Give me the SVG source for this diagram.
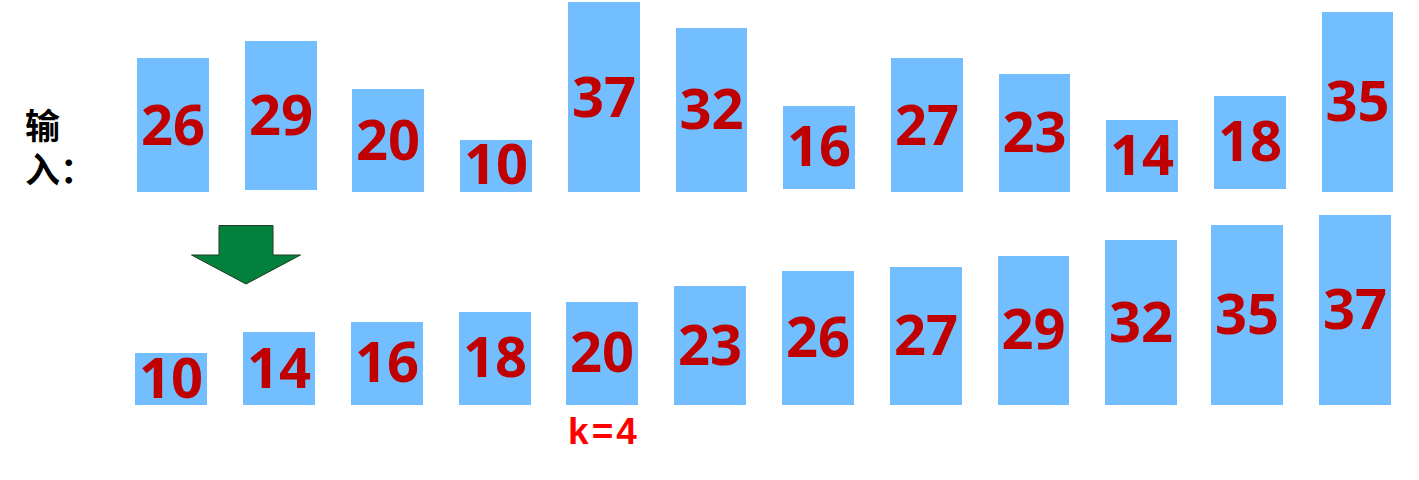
<svg xmlns="http://www.w3.org/2000/svg" width="1419" height="480" viewBox="0 0 1419 480">
<style>
.bar{fill:#73BEFF;}
.num{font-family:"Open Sans","Noto Sans",sans-serif;font-weight:bold;font-size:56px;fill:#C00000;text-anchor:middle;}
.lbl{font-family:"Noto Sans CJK SC",sans-serif;font-weight:bold;font-size:35px;fill:#000;}
.k{font-family:"Liberation Sans",Arial,sans-serif;font-weight:bold;font-size:37px;fill:#FF0000;text-anchor:middle;}
</style>
<rect width="1419" height="480" fill="#fff"/>
<g id="label-input">
<text class="lbl" x="25" y="139">输</text>
<text class="lbl" x="25" y="183">入：</text>
</g>
<g id="input-row">
<g id="in-26"><rect class="bar" x="137" y="58" width="72" height="134"/><text class="num" x="173" y="145">26</text></g>
<g id="in-29"><rect class="bar" x="245" y="41" width="72" height="149"/><text class="num" x="281" y="135">29</text></g>
<g id="in-20"><rect class="bar" x="352" y="89" width="72" height="103"/><text class="num" x="388" y="160">20</text></g>
<g id="in-10"><rect class="bar" x="460" y="140" width="72" height="52"/><text class="num" x="496" y="184">10</text></g>
<g id="in-37"><rect class="bar" x="568" y="2" width="72" height="190"/><text class="num" x="604" y="117">37</text></g>
<g id="in-32"><rect class="bar" x="676" y="28" width="71" height="164"/><text class="num" x="711.5" y="129">32</text></g>
<g id="in-16"><rect class="bar" x="783" y="106" width="72" height="83"/><text class="num" x="819" y="166">16</text></g>
<g id="in-27"><rect class="bar" x="891" y="58" width="72" height="134"/><text class="num" x="927" y="145">27</text></g>
<g id="in-23"><rect class="bar" x="999" y="74" width="71" height="118"/><text class="num" x="1034.5" y="152">23</text></g>
<g id="in-14"><rect class="bar" x="1106" y="120" width="72" height="72"/><text class="num" x="1142" y="175">14</text></g>
<g id="in-18"><rect class="bar" x="1214" y="96" width="72" height="93"/><text class="num" x="1250" y="161">18</text></g>
<g id="in-35"><rect class="bar" x="1322" y="12" width="71" height="180"/><text class="num" x="1357.5" y="121">35</text></g>
</g>
<g id="connectors">
<polygon points="219,225.5 273,225.5 273,255 300.5,255 246,284 191.5,255 219,255" fill="#03803B" stroke="#1E3A22" stroke-width="1"/>
</g>
<g id="sorted-row">
<g id="out-10"><rect class="bar" x="135" y="353" width="72" height="52"/><text class="num" x="171" y="398">10</text></g>
<g id="out-14"><rect class="bar" x="243" y="332" width="72" height="73"/><text class="num" x="279" y="388">14</text></g>
<g id="out-16"><rect class="bar" x="351" y="322" width="72" height="83"/><text class="num" x="387" y="382">16</text></g>
<g id="out-18"><rect class="bar" x="459" y="312" width="72" height="93"/><text class="num" x="495" y="377">18</text></g>
<g id="out-20"><rect class="bar" x="566" y="302" width="72" height="103"/><text class="num" x="602" y="372">20</text></g>
<g id="out-23"><rect class="bar" x="674" y="286" width="72" height="119"/><text class="num" x="710" y="365">23</text></g>
<g id="out-26"><rect class="bar" x="782" y="271" width="72" height="134"/><text class="num" x="818" y="357">26</text></g>
<g id="out-27"><rect class="bar" x="890" y="267" width="72" height="138"/><text class="num" x="926" y="355">27</text></g>
<g id="out-29"><rect class="bar" x="998" y="256" width="71" height="149"/><text class="num" x="1033.5" y="349">29</text></g>
<g id="out-32"><rect class="bar" x="1105" y="240" width="72" height="165"/><text class="num" x="1141" y="342">32</text></g>
<g id="out-35"><rect class="bar" x="1211" y="225" width="72" height="180"/><text class="num" x="1247" y="334">35</text></g>
<g id="out-37"><rect class="bar" x="1319" y="215" width="72" height="190"/><text class="num" x="1355" y="329">37</text></g>
</g>
<g id="k-label">
<text class="k" x="604" y="444" letter-spacing="3">k=4</text>
</g>
</svg>
